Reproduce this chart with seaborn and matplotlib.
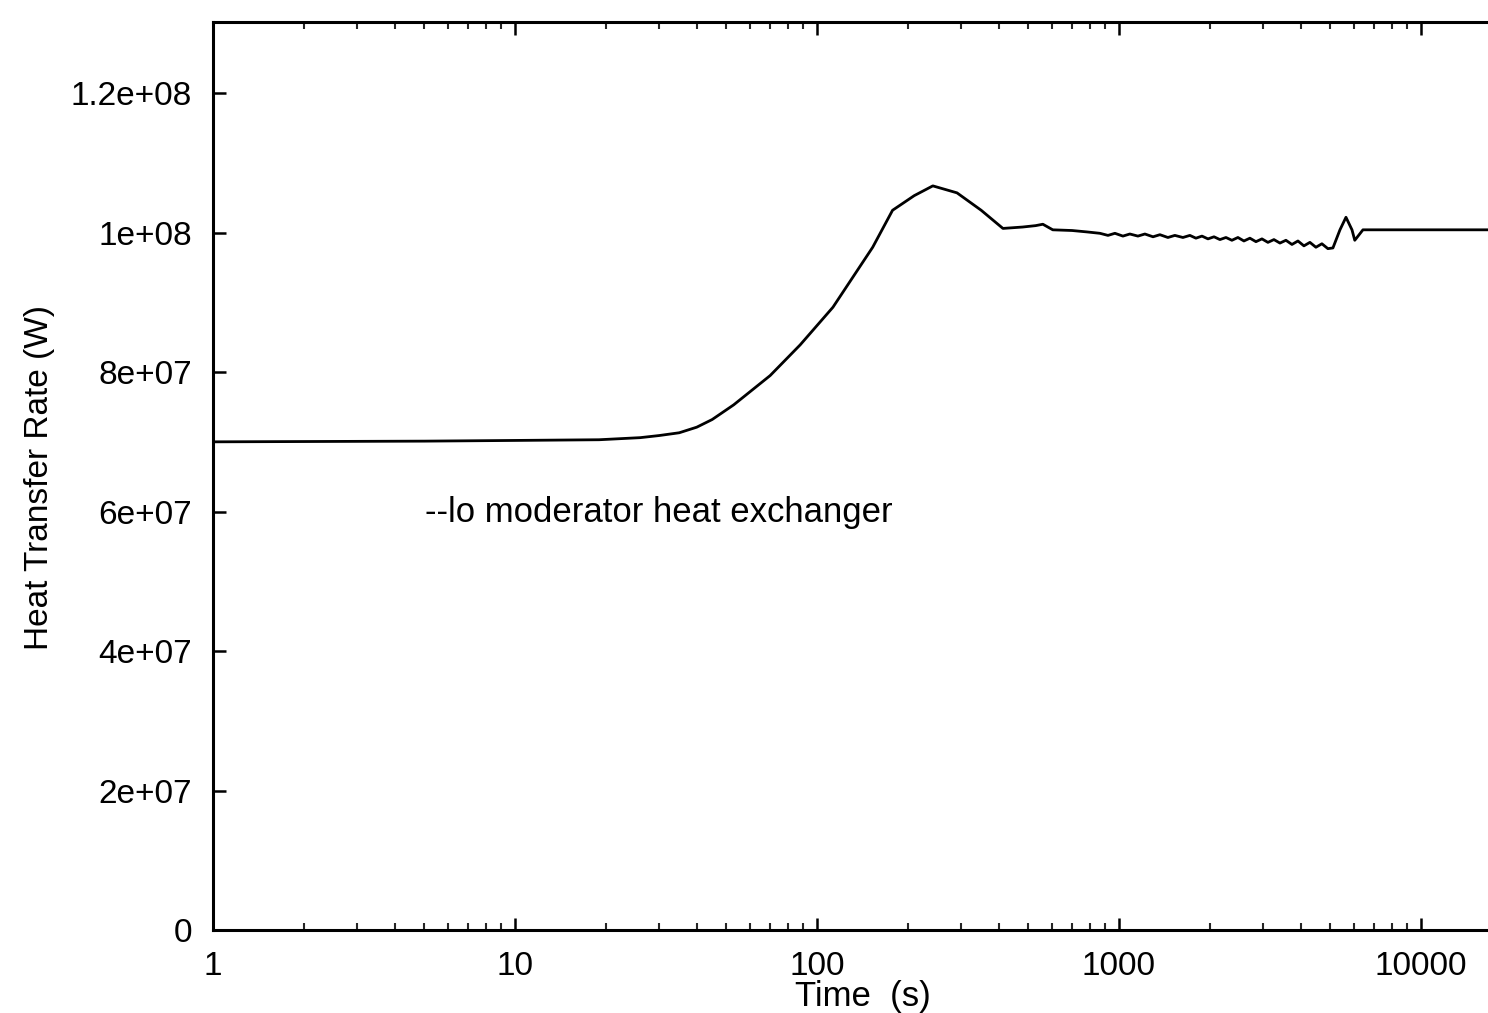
import numpy as np
import pandas as pd
import seaborn as sns
import matplotlib
matplotlib.use('Agg')
import matplotlib.pyplot as plt
from matplotlib.ticker import FuncFormatter, FixedLocator

# time (s) and heat transfer rate (1e6 W)
time_s = [1, 5, 10, 19, 26, 30, 35, 40, 45, 53, 70, 88, 113, 153, 178, 210, 242, 291, 350,
          413, 480, 530, 560, 604, 700, 783,
          865, 920, 970, 1031, 1087, 1156, 1219, 1297, 1367, 1453, 1532, 1629, 1718,
          1799, 1884, 1972, 2065, 2160, 2262, 2367, 2478, 2594, 2715, 2843, 2976,
          3115, 3261, 3414, 3573, 3741, 3916, 4099, 4290, 4491, 4701, 4921, 5113,
          5395, 5648, 5913, 6040, 6428, 8000, 12000, 16680]
rate_mw = [70.0, 70.1, 70.2, 70.3, 70.6, 70.9, 71.3, 72.1, 73.2, 75.3, 79.5, 83.9, 89.3, 97.9, 103.2,
           105.3, 106.7, 105.7, 103.2, 100.6, 100.8, 101.0, 101.2, 100.4, 100.3, 100.1,
           99.9, 99.6, 99.9, 99.5, 99.8, 99.5, 99.8, 99.4, 99.7, 99.3, 99.6, 99.3, 99.6,
           99.2, 99.5, 99.1, 99.4, 99.0, 99.3, 98.9, 99.3, 98.8, 99.2, 98.7, 99.1,
           98.6, 99.0, 98.5, 98.9, 98.3, 98.8, 98.1, 98.6, 97.9, 98.4, 97.7, 97.8,
           100.4, 102.2, 100.4, 98.9, 100.4, 100.4, 100.4, 100.4]

y_ticks = [0, 2e7, 4e7, 6e7, 8e7, 1e8, 1.2e8]
x_ticks = [1, 10, 100, 1000, 10000]

df = pd.DataFrame({'Time': time_s, 'Rate': np.array(rate_mw) * 1e6})

sns.set_style('ticks')
plt.rcParams['font.family'] = ['Liberation Sans', 'DejaVu Sans']
plt.rcParams['text.color'] = 'black'
plt.rcParams['axes.labelcolor'] = 'black'

fig = plt.figure(figsize=(14.88, 10.13), dpi=100)
ax = fig.add_axes([0.1431, 0.0819, 0.8569, 0.8964])

sns.lineplot(data=df, x='Time', y='Rate', color='black', linewidth=2.0, ax=ax)

ax.set_xscale('log')
ax.set_xlim(1, 16680)
ax.set_ylim(0, 1.302e8)
ax.xaxis.set_major_locator(FixedLocator(x_ticks))
ax.xaxis.set_major_formatter(FuncFormatter(lambda v, p: '%g' % v))
ax.yaxis.set_major_locator(FixedLocator(y_ticks))
ax.yaxis.set_major_formatter(FuncFormatter(lambda v, p: '%g' % v))

ax.tick_params(axis='both', which='major', direction='in', length=9, width=1.8,
               labelsize=24, pad=15, colors='black')
ax.tick_params(axis='x', which='minor', direction='in', length=5, width=1.5, top=True)
ax.tick_params(axis='x', which='major', top=True)
ax.tick_params(axis='y', which='minor', left=False, right=False)

for side in ['left', 'bottom', 'top']:
    ax.spines[side].set_linewidth(2.2)
    ax.spines[side].set_color('black')
ax.spines['right'].set_visible(False)

ax.set_xlabel('Time  (s)', fontsize=25)
ax.xaxis.set_label_coords(0.51, -0.055)
ax.set_ylabel('Heat Transfer Rate (W)', fontsize=24)
ax.yaxis.set_label_coords(-0.124, 0.498)

ax.text(5.04, 5.98e7, '--lo moderator heat exchanger', fontsize=25,
        ha='left', va='center')

fig.savefig('out.png', dpi=100)
